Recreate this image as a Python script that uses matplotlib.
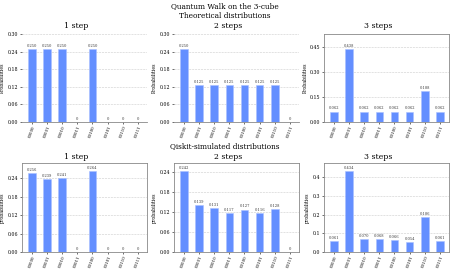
import matplotlib
matplotlib.use("Agg")
import matplotlib.pyplot as plt

labels = ["00000", "00001", "00010", "00011", "00100", "00101", "00110", "00111"]

theory_1 = [0.25, 0.25, 0.25, 0, 0.25, 0, 0, 0]
theory_2 = [0.25, 0.125, 0.125, 0.125, 0.125, 0.125, 0.125, 0]
theory_3 = [0.0625, 0.4375, 0.0625, 0.0625, 0.0625, 0.0625, 0.1875, 0.0625]

sim_1 = [0.256, 0.239, 0.241, 0, 0.264, 0, 0, 0]
sim_2 = [0.242, 0.139, 0.131, 0.117, 0.127, 0.116, 0.128, 0]
sim_3 = [0.061, 0.434, 0.070, 0.068, 0.066, 0.054, 0.186, 0.061]

step_titles = ["1 step", "2 steps", "3 steps"]

plt.rcParams["font.family"] = "DejaVu Serif"

W, H = 453, 274
fig = plt.figure(figsize=(W / 100, H / 100), dpi=100)


def px_axes(left, top, right, bottom):
    return fig.add_axes([left / W, 1 - bottom / H, (right - left) / W, (bottom - top) / H])


def ticks_fmt(ticks):
    if all(abs(t * 10 - round(t * 10)) < 1e-9 for t in ticks):
        return ["%.1f" % t for t in ticks]
    return ["%.2f" % t for t in ticks]


def draw(ax, vals, ylim, ticks, ylabel, frame):
    x = range(len(vals))
    ax.bar(x, vals, width=0.5, color="#648fff", edgecolor="#a9c0ff", linewidth=0.4, zorder=3)
    for i, v in enumerate(vals):
        txt = "0" if v == 0 else "%.3f" % v
        ax.text(i, v + ylim * 0.012, txt, ha="center", va="bottom", fontsize=2.6, color="#333333")
    ax.set_xlim(-0.65, 7.6)
    ax.set_ylim(0, ylim)
    ax.set_yticks(ticks)
    ax.set_yticklabels(ticks_fmt(ticks), fontsize=3.4)
    ax.set_xticks(list(x))
    ax.set_xticklabels(labels, rotation=70, fontsize=2.9)
    ax.tick_params(length=1.2, width=0.4, pad=1.2)
    ax.yaxis.grid(True, linestyle="--", color="#cccccc", linewidth=0.4, zorder=0)
    ax.set_ylabel(ylabel, fontsize=3.3, labelpad=2)
    for s in ax.spines.values():
        s.set_color("#888888")
        s.set_linewidth(0.6)
        s.set_visible(frame)
    ax.spines["bottom"].set_visible(True)


cols = [(22, 147), (174, 299), (324, 449)]

top_vals = [theory_1, theory_2, theory_3]
top_lims = [0.30, 0.30, 0.525]
top_ticks = [[0, 0.06, 0.12, 0.18, 0.24, 0.30], [0, 0.06, 0.12, 0.18, 0.24, 0.30], [0, 0.15, 0.30, 0.45]]
top_frame = [False, False, True]

bot_vals = [sim_1, sim_2, sim_3]
bot_lims = [0.29, 0.266, 0.476]
bot_ticks = [[0, 0.06, 0.12, 0.18, 0.24], [0, 0.06, 0.12, 0.18, 0.24], [0, 0.1, 0.2, 0.3, 0.4]]

for j, (l, r) in enumerate(cols):
    ax = px_axes(l, 34, r, 122)
    draw(ax, top_vals[j], top_lims[j], top_ticks[j], "Probabilities", top_frame[j])
    ax.set_title(step_titles[j], fontsize=5.6, x=0.43, pad=4)
    ax = px_axes(l, 163, r, 252)
    draw(ax, bot_vals[j], bot_lims[j], bot_ticks[j], "probabilities", True)
    ax.set_title(step_titles[j], fontsize=5.6, x=0.43, pad=3)

fig.text(0.497, 1 - 6 / H, "Quantum Walk on the 3-cube", ha="center", va="center", fontsize=5.3)
fig.text(0.497, 1 - 15.5 / H, "Theoretical distributions", ha="center", va="center", fontsize=5.3)
fig.text(0.497, 1 - 146 / H, "Qiskit-simulated distributions", ha="center", va="center", fontsize=5.3)

fig.savefig("out.png", dpi=100)
